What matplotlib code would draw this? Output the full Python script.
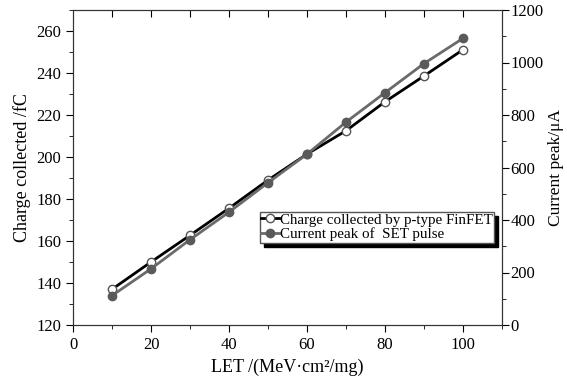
import numpy as np
import matplotlib.pyplot as plt
from matplotlib.ticker import MultipleLocator

plt.rcParams['font.family'] = ['Liberation Serif', 'DejaVu Serif']
plt.rcParams['font.size'] = 12

let = [10, 20, 30, 40, 50, 60, 70, 80, 90, 100]
charge = [137, 150, 162.7, 175.6, 189, 201.4, 212.5, 226.3, 238.6, 251.1]
current = [112, 214, 325, 430, 542, 651, 773, 885, 996, 1092]

fig = plt.figure(figsize=(5.67, 3.83), dpi=100)
ax = fig.add_axes([73/567, 58/383, 429/567, 315/383])
ax2 = ax.twinx()

l1, = ax.plot(let, charge, color="black", lw=2, marker="o", ms=6,
              mfc="white", mec="#555555", mew=1)
l2, = ax2.plot(let, current, color="#6a6a6a", lw=2, marker="o", ms=6,
               mfc="#5a5a5a", mec="#5a5a5a")

ax.set_xlim(0, 110)
ax.set_ylim(120, 270)
ax2.set_ylim(0, 1200)
ax.set_xticks(np.arange(0, 101, 20))
ax.xaxis.set_minor_locator(MultipleLocator(10))
ax.set_yticks(np.arange(120, 261, 20))
ax.yaxis.set_minor_locator(MultipleLocator(10))
ax2.set_yticks(np.arange(0, 1201, 200))
ax2.yaxis.set_minor_locator(MultipleLocator(100))

ax.tick_params(which="both", direction="out", top=False)
ax.tick_params(which="major", length=5)
ax.tick_params(which="minor", length=3)
ax2.tick_params(which="major", direction="out", length=5, pad=1)
ax2.tick_params(which="minor", direction="out", length=3)
sec = ax.secondary_xaxis("top")
sec.set_xticks(np.arange(10, 101, 10))
sec.tick_params(direction="in", length=5, labeltop=False)
sec.spines["top"].set_visible(False)

for a in (ax, ax2):
    for s in a.spines.values():
        s.set_color("#333333")

ax.set_xlabel("LET /(MeV·cm²/mg)", fontsize=13)
ax.set_ylabel("Charge collected /fC", fontsize=13)
ax2.set_ylabel("Current peak/μA", fontsize=12.5, labelpad=3)

leg = ax2.legend([l1, l2], ["Charge collected by p-type FinFET", "Current peak of  SET pulse"],
                 loc="upper left", bbox_to_anchor=(0.435, 0.36),
                 shadow={"color": "black", "alpha": 1, "ox": 3, "oy": -3},
                 fancybox=False, edgecolor="#555555", framealpha=1,
                 handlelength=1.2, handletextpad=0.05, borderpad=0.1,
                 labelspacing=0.05, borderaxespad=0, fontsize=10.8)

fig.savefig("out.png", dpi=100)
